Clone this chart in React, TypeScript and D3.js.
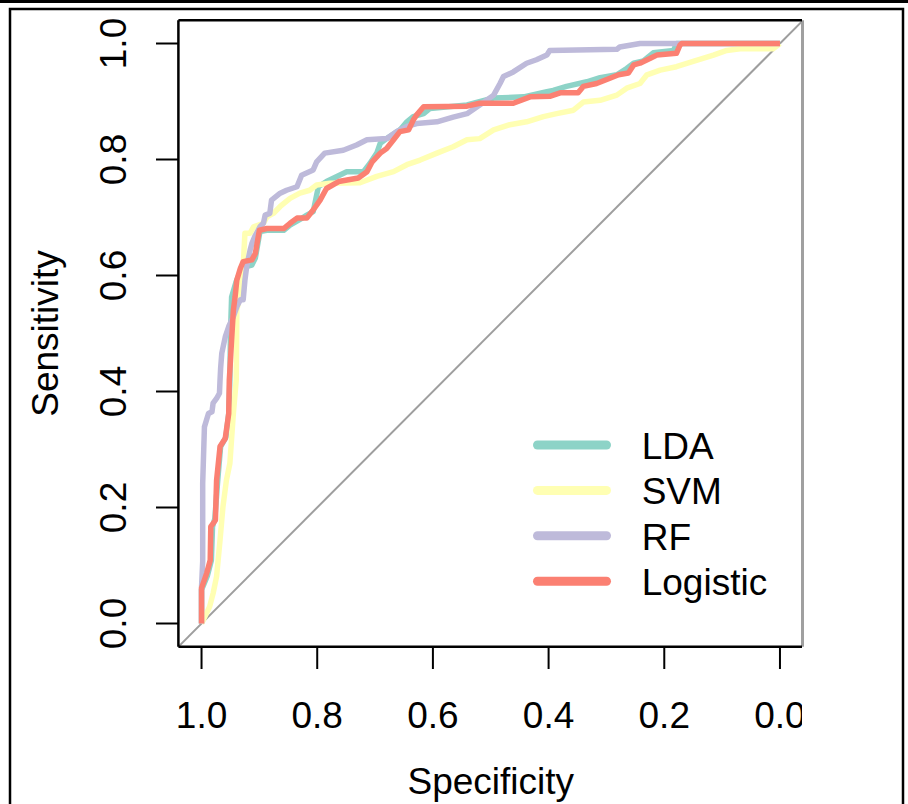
import React from "react";
import * as d3 from "d3";

// ---- data (specificity, sensitivity) ----
const ldaSpec = [1.0, 1.0, 0.99, 0.983, 0.981, 0.977, 0.972, 0.967, 0.958, 0.953, 0.951, 0.95, 0.948, 0.94, 0.933, 0.925, 0.913, 0.907, 0.899, 0.887, 0.858, 0.847, 0.826, 0.818, 0.807, 0.798, 0.784, 0.749, 0.72, 0.709, 0.697, 0.691, 0.68, 0.657, 0.645, 0.634, 0.616, 0.605, 0.541, 0.495, 0.443, 0.403, 0.392, 0.369, 0.334, 0.311, 0.282, 0.265, 0.253, 0.236, 0.219, 0.184, 0.179, 0.0];
const ldaSens = [0.0, 0.058, 0.082, 0.109, 0.167, 0.181, 0.247, 0.305, 0.321, 0.362, 0.42, 0.5, 0.563, 0.59, 0.606, 0.615, 0.618, 0.63, 0.676, 0.678, 0.678, 0.687, 0.699, 0.704, 0.71, 0.753, 0.762, 0.779, 0.779, 0.793, 0.811, 0.828, 0.836, 0.851, 0.865, 0.874, 0.879, 0.888, 0.894, 0.906, 0.908, 0.917, 0.919, 0.926, 0.934, 0.941, 0.946, 0.957, 0.966, 0.97, 0.984, 0.988, 1.0, 1.0];

const svmSpec = [1.0, 0.997, 0.986, 0.98, 0.974, 0.968, 0.963, 0.957, 0.951, 0.945, 0.94, 0.939, 0.933, 0.928, 0.925, 0.916, 0.91, 0.893, 0.887, 0.876, 0.864, 0.847, 0.83, 0.813, 0.801, 0.778, 0.726, 0.697, 0.668, 0.645, 0.622, 0.593, 0.565, 0.541, 0.519, 0.495, 0.467, 0.438, 0.409, 0.386, 0.357, 0.34, 0.311, 0.282, 0.265, 0.242, 0.23, 0.207, 0.179, 0.15, 0.115, 0.092, 0.069, 0.012, 0.0];
const svmSens = [0.0, 0.006, 0.029, 0.052, 0.081, 0.144, 0.201, 0.247, 0.276, 0.362, 0.42, 0.54, 0.569, 0.615, 0.673, 0.673, 0.684, 0.69, 0.701, 0.707, 0.719, 0.733, 0.742, 0.747, 0.756, 0.759, 0.76, 0.771, 0.779, 0.791, 0.799, 0.811, 0.822, 0.834, 0.836, 0.851, 0.86, 0.865, 0.874, 0.879, 0.885, 0.899, 0.902, 0.911, 0.923, 0.931, 0.946, 0.954, 0.96, 0.969, 0.98, 0.988, 0.991, 0.991, 1.0];

const rfSpec = [1.0, 1.0, 0.998, 0.998, 0.995, 0.988, 0.982, 0.98, 0.974, 0.969, 0.968, 0.967, 0.965, 0.959, 0.953, 0.945, 0.939, 0.933, 0.928, 0.925, 0.922, 0.916, 0.913, 0.908, 0.899, 0.893, 0.89, 0.882, 0.879, 0.864, 0.853, 0.835, 0.827, 0.807, 0.801, 0.787, 0.755, 0.732, 0.714, 0.68, 0.663, 0.645, 0.628, 0.593, 0.565, 0.541, 0.519, 0.495, 0.484, 0.478, 0.461, 0.438, 0.421, 0.403, 0.398, 0.282, 0.277, 0.242, 0.0];
const rfSens = [0.0, 0.063, 0.107, 0.242, 0.339, 0.362, 0.365, 0.38, 0.388, 0.397, 0.42, 0.44, 0.466, 0.494, 0.512, 0.529, 0.546, 0.558, 0.558, 0.592, 0.615, 0.644, 0.655, 0.667, 0.684, 0.69, 0.704, 0.707, 0.73, 0.742, 0.747, 0.753, 0.773, 0.782, 0.796, 0.811, 0.816, 0.825, 0.834, 0.836, 0.848, 0.857, 0.862, 0.865, 0.873, 0.879, 0.894, 0.911, 0.931, 0.943, 0.951, 0.966, 0.972, 0.98, 0.988, 0.99, 0.994, 1.0, 1.0];

const logSpec = [1.0, 1.0, 0.991, 0.985, 0.984, 0.976, 0.974, 0.968, 0.959, 0.953, 0.952, 0.95, 0.948, 0.945, 0.942, 0.939, 0.933, 0.928, 0.913, 0.907, 0.903, 0.9, 0.887, 0.858, 0.847, 0.835, 0.818, 0.807, 0.795, 0.784, 0.763, 0.729, 0.714, 0.705, 0.691, 0.68, 0.668, 0.657, 0.642, 0.634, 0.628, 0.616, 0.541, 0.519, 0.461, 0.432, 0.398, 0.38, 0.349, 0.34, 0.317, 0.294, 0.279, 0.262, 0.253, 0.242, 0.225, 0.213, 0.179, 0.173, 0.17, 0.0];
const logSens = [0.0, 0.061, 0.087, 0.109, 0.167, 0.178, 0.247, 0.305, 0.319, 0.362, 0.42, 0.454, 0.489, 0.54, 0.563, 0.592, 0.612, 0.624, 0.627, 0.638, 0.661, 0.678, 0.681, 0.681, 0.69, 0.699, 0.699, 0.713, 0.73, 0.75, 0.762, 0.768, 0.779, 0.796, 0.811, 0.819, 0.834, 0.848, 0.851, 0.868, 0.877, 0.891, 0.892, 0.897, 0.897, 0.908, 0.909, 0.915, 0.915, 0.926, 0.931, 0.94, 0.946, 0.949, 0.963, 0.966, 0.974, 0.98, 0.983, 0.997, 1.0, 1.0];

const seriesNames = ["LDA", "SVM", "RF", "Logistic"];
const seriesColors = ["#8DD3C7", "#FFFFB3", "#BEBADA", "#FB8072"];
const seriesSpec = [ldaSpec, svmSpec, rfSpec, logSpec];
const seriesSens = [ldaSens, svmSens, rfSens, logSens];

const xTicks = [1.0, 0.8, 0.6, 0.4, 0.2, 0.0];
const yTicks = [0.0, 0.2, 0.4, 0.6, 0.8, 1.0];

const FONT = "'Liberation Sans', Arial, Helvetica, sans-serif";
const FS = 37;

export default function App() {
  const x = d3.scaleLinear().domain([1.04, -0.04]).range([178.4, 803.1]);
  const y = d3.scaleLinear().domain([-0.04, 1.04]).range([646.7, 20.3]);
  const line = d3
    .line<[number, number]>()
    .x((d) => x(d[0]))
    .y((d) => y(d[1]));

  const left = x(1.04);
  const right = x(-0.04);
  const top = y(1.04);
  const bottom = y(-0.04);

  const legendY0 = 445;
  const legendStep = 45.4;

  return (
    <svg
      width={908}
      height={804}
      style={{ position: "fixed", left: 0, top: 0, display: "block", background: "#fff" }}
      fontFamily={FONT}
    >
      <defs>
        <clipPath id="figclip">
          <rect x={0} y={0} width={802} height={804} />
        </clipPath>
        <clipPath id="plotclip">
          <rect x={left} y={top} width={right - left} height={bottom - top} />
        </clipPath>
      </defs>
      <rect x={0} y={0} width={908} height={804} fill="#fff" />
      {/* outer frames */}
      <rect x={0} y={0} width={908} height={3} fill="#000" />
      <rect x={10} y={9} width={893} height={830} fill="none" stroke="#000" strokeWidth={2.5} />

      {/* right edge of plot box (grey, at clip border) */}
      <line x1={802.5} x2={802.5} y1={top} y2={bottom} stroke="#a0a0a0" strokeWidth={3} />

      <g clipPath="url(#figclip)">
        {/* diagonal */}
        <g clipPath="url(#plotclip)">
          <path
            d={line([
              [1.04, -0.04],
              [-0.04, 1.04],
            ])!}
            stroke="#9e9e9e"
            strokeWidth={2}
            fill="none"
          />
          {seriesNames.map((name, i) => (
            <path
              key={name}
              d={line(seriesSpec[i].map((s, j) => [s, seriesSens[i][j]] as [number, number]))!}
              stroke={seriesColors[i]}
              strokeWidth={5.5}
              fill="none"
              strokeLinejoin="round"
            />
          ))}
        </g>

        {/* box */}
        <line x1={left} x2={left} y1={top} y2={bottom} stroke="#000" strokeWidth={2.5} />
        <line x1={left} x2={right + 2} y1={bottom} y2={bottom} stroke="#000" strokeWidth={2.5} />
        <line x1={left} x2={right + 2} y1={top} y2={top} stroke="#000" strokeWidth={2.5} />

        {/* x axis */}
        {xTicks.map((t) => (
          <g key={"x" + t}>
            <line x1={x(t)} x2={x(t)} y1={bottom} y2={669} stroke="#000" strokeWidth={2} />
            <text x={x(t)} y={728} fontSize={FS} textAnchor="middle" fill="#000">
              {t.toFixed(1)}
            </text>
          </g>
        ))}
        {/* y axis */}
        {yTicks.map((t) => (
          <g key={"y" + t}>
            <line x1={156} x2={left} y1={y(t)} y2={y(t)} stroke="#000" strokeWidth={2} />
            <text
              transform={`translate(126,${y(t)}) rotate(-90)`}
              fontSize={FS}
              textAnchor="middle"
              fill="#000"
            >
              {t.toFixed(1)}
            </text>
          </g>
        ))}

        <text x={(left + right) / 2} y={794} fontSize={FS} textAnchor="middle" fill="#000">
          Specificity
        </text>
        <text
          transform={`translate(58,${(top + bottom) / 2}) rotate(-90)`}
          fontSize={FS}
          textAnchor="middle"
          fill="#000"
        >
          Sensitivity
        </text>

        {/* legend */}
        {seriesNames.map((name, i) => {
          const ly = legendY0 + i * legendStep;
          return (
            <g key={"leg" + name}>
              <line
                x1={537.5}
                x2={606.5}
                y1={ly}
                y2={ly}
                stroke={seriesColors[i]}
                strokeWidth={9}
                strokeLinecap="round"
              />
              <text x={641.7} y={ly + 14} fontSize={FS} fill="#000">
                {name}
              </text>
            </g>
          );
        })}
      </g>
    </svg>
  );
}
